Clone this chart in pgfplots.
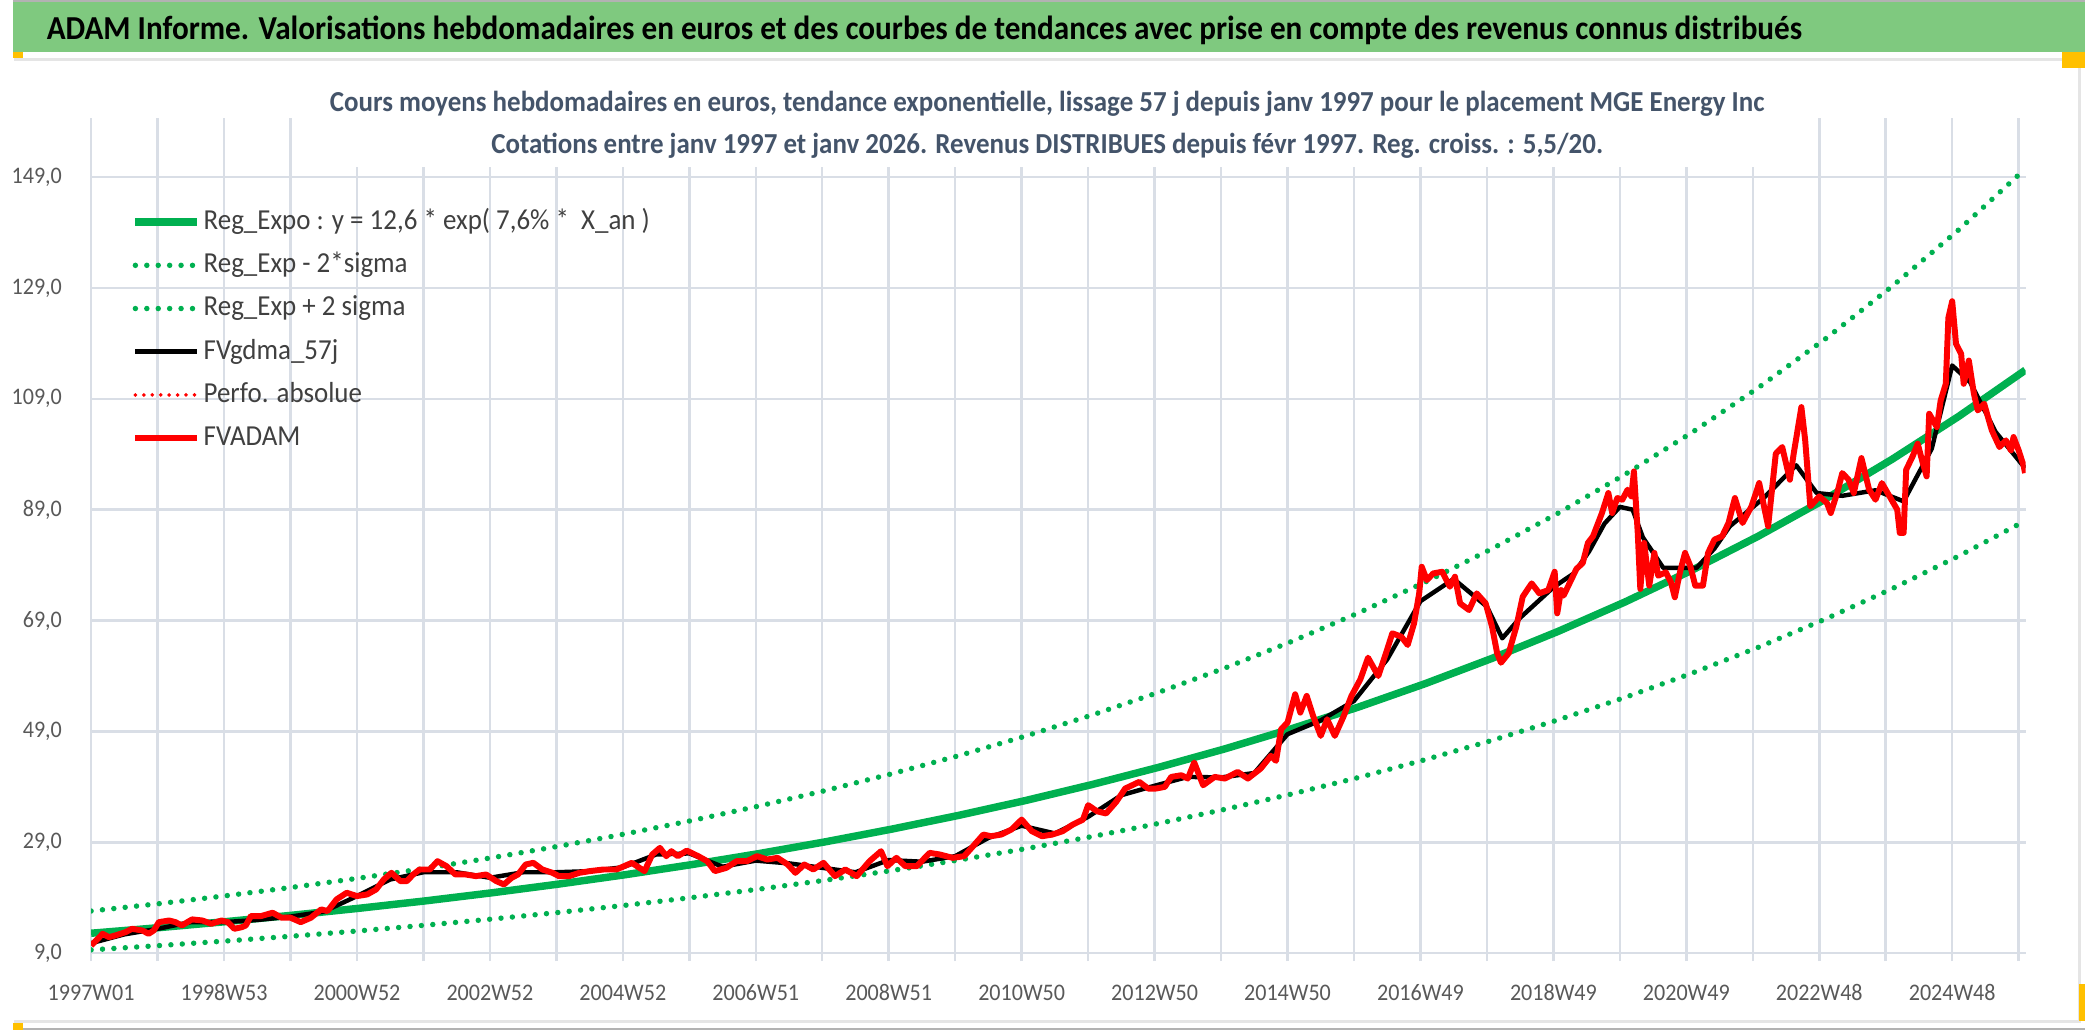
\documentclass[border=0pt]{standalone}
\usepackage{fontspec}
\setmainfont[FakeStretch=0.93]{Carlito}
\usepackage{pgfplots}
\pgfplotsset{compat=1.18}
\definecolor{barg}{RGB}{127,201,127}
\definecolor{xlgreen}{RGB}{0,176,80}
\definecolor{gridc}{RGB}{217,222,230}
\definecolor{subt}{RGB}{68,84,106}
\definecolor{tickc}{RGB}{89,89,89}
\definecolor{legc}{RGB}{64,64,64}
\definecolor{xlorange}{RGB}{255,192,0}

\pgfplotstableread{
w v
0 12.60
52.18 13.59
104.36 14.67
156.54 15.83
208.72 17.08
260.90 18.42
313.08 19.88
365.26 21.45
417.44 23.14
469.62 24.97
521.80 26.94
573.98 29.07
626.16 31.37
678.34 33.84
730.52 36.51
782.70 39.40
834.88 42.51
887.06 45.86
939.24 49.49
991.42 53.39
1043.60 57.61
1095.78 62.16
1147.96 67.07
1200.14 72.36
1252.32 78.08
1304.50 84.24
1356.68 90.89
1408.86 98.07
1461.04 105.82
1513.22 114.17
}\regexpo

\pgfplotstableread{
w v
0 9.60
52.18 10.36
104.36 11.18
156.54 12.06
208.72 13.01
260.90 14.04
313.08 15.15
365.26 16.34
417.44 17.63
469.62 19.03
521.80 20.53
573.98 22.15
626.16 23.90
678.34 25.79
730.52 27.82
782.70 30.02
834.88 32.39
887.06 34.95
939.24 37.71
991.42 40.68
1043.60 43.90
1095.78 47.37
1147.96 51.11
1200.14 55.14
1252.32 59.50
1304.50 64.19
1356.68 69.26
1408.86 74.73
1461.04 80.63
1513.22 87.00
}\reglow

\pgfplotstableread{
w v
0 16.61
52.18 17.91
104.36 19.33
156.54 20.86
208.72 22.51
260.90 24.28
313.08 26.20
365.26 28.27
417.44 30.50
469.62 32.91
521.80 35.51
573.98 38.31
626.16 41.35
678.34 44.60
730.52 48.12
782.70 51.93
834.88 56.03
887.06 60.44
939.24 65.23
991.42 70.37
1043.60 75.93
1095.78 81.93
1147.96 88.40
1200.14 95.37
1252.32 102.91
1304.50 111.03
1356.68 119.79
1408.86 129.26
1461.04 139.47
1513.22 150.48
}\reghigh

\pgfplotstableread{
w v
0 10.8
26 12.4
52 13.4
78 14.6
104 14.6
130 15.0
156 15.6
182 16.5
208 19.3
234 22.3
260 23.6
286 23.6
312 22.6
338 23.6
364 23.6
390 23.8
416 24.5
442 26.8
468 27.0
494 24.6
520 25.7
546 25.2
572 24.4
598 23.6
624 25.8
650 25.5
676 26.5
702 29.8
728 32.0
754 30.6
780 33.6
806 37.5
832 39.2
858 40.8
884 40.7
910 41.5
936 48.5
962 51.0
988 54.5
1014 62.0
1040 72.5
1066 76.5
1092 71.5
1104 65.8
1118 69.5
1144 75.0
1160 77.5
1172 81.5
1184 86.5
1196 89.5
1206 89.0
1214 84.0
1230 78.5
1256 78.5
1270 82.0
1282 86.0
1308 91.0
1334 97.0
1350 92.0
1370 91.5
1396 92.5
1418 90.5
1440 100.0
1456 115.0
1470 112.0
1490 103.0
1513 96.5
}\gdma

\pgfplotstableread{
w v
0 10.4
4 11.3
9 12.5
14 11.9
19 12.2
27 12.8
32 13.4
40 13.1
45 12.5
49 13.1
53 14.6
61 14.9
66 14.6
71 14.0
79 15.1
87 14.9
94 14.3
102 14.9
107 14.6
112 13.4
118 13.7
121 14.0
125 15.7
133 15.7
142 16.3
149 15.4
156 15.4
164 14.6
172 15.4
180 16.9
185 16.6
192 18.7
200 19.9
208 19.3
216 19.6
223 20.5
229 22.3
235 23.5
242 22.0
247 22.0
252 23.2
257 24.1
265 24.1
271 25.6
278 24.7
285 23.2
293 23.2
301 22.9
309 23.2
317 22.0
323 21.4
329 22.6
334 23.2
340 25.0
346 25.3
353 24.1
361 23.5
366 22.9
374 22.9
382 23.5
390 23.8
401 24.1
411 24.1
423 25.3
433 23.8
439 26.8
445 28.0
450 26.5
454 27.4
459 26.5
466 27.5
475 26.5
482 25.6
488 23.8
497 24.4
505 25.6
513 25.6
521 26.5
529 25.9
537 26.2
545 25.0
551 23.5
558 25.0
565 24.1
573 25.3
582 22.9
590 24.1
599 22.9
609 25.6
618 27.4
623 24.7
630 26.2
637 24.7
646 24.7
656 27.1
664 26.8
674 26.2
683 26.5
690 28.3
698 30.4
704 30.1
712 30.4
720 31.3
728 33.1
736 31.0
744 30.1
752 30.4
760 31.0
768 32.2
776 33.1
780 35.7
787 34.6
794 34.2
802 36.3
809 38.7
820 39.9
827 38.7
833 38.7
840 39.0
845 40.8
853 41.1
858 40.5
863 43.4
870 39.3
879 40.8
887 40.5
897 41.7
905 40.5
915 42.3
923 44.6
927 43.7
931 49.4
936 50.6
942 55.7
946 52.4
951 55.4
956 51.8
962 48.2
967 51.2
973 48.2
980 51.8
986 55.4
993 58.4
999 62.3
1007 59.0
1013 63.1
1018 66.7
1025 66.1
1030 64.6
1035 68.5
1039 73.9
1041 78.7
1045 76.3
1050 77.5
1057 77.8
1063 75.1
1067 76.9
1071 72.1
1078 70.9
1084 73.9
1091 72.1
1096 67.9
1100 63.1
1103 61.4
1109 63.1
1115 67.9
1120 73.3
1127 75.7
1133 73.9
1140 74.5
1145 77.8
1147 70.3
1150 74.5
1152 73.5
1157 75.9
1162 78.3
1167 79.4
1171 83.0
1175 84.2
1179 86.6
1182 88.4
1187 92.0
1190 88.4
1194 91.1
1198 90.8
1202 92.6
1205 91.4
1207 95.9
1210 84.8
1212 74.7
1215 83.0
1219 75.3
1223 81.2
1226 77.1
1232 77.7
1236 75.9
1239 73.2
1243 77.7
1247 81.2
1251 78.9
1255 75.3
1261 75.3
1265 81.2
1270 83.6
1276 84.2
1281 86.6
1286 91.1
1292 86.6
1299 89.6
1305 93.8
1312 86.0
1318 99.1
1323 100.3
1329 94.4
1332 99.1
1338 107.5
1341 101.5
1345 89.6
1352 91.4
1358 90.2
1361 88.4
1366 92.0
1370 95.6
1375 94.4
1379 92.0
1385 98.3
1391 92.6
1396 90.8
1401 93.8
1407 91.4
1413 89.0
1415 84.8
1418 84.8
1420 96.2
1425 98.6
1429 100.9
1433 97.4
1436 95.0
1438 106.3
1444 103.9
1447 108.7
1451 111.7
1453 123.6
1456 126.6
1459 118.9
1463 117.1
1465 111.7
1469 115.9
1473 109.9
1476 106.9
1481 108.1
1487 103.3
1493 100.3
1498 101.5
1502 99.7
1504 102.1
1508 99.7
1512 96.8
1513 95.6
}\fvadam

\begin{document}
\begin{tikzpicture}[x=0.1mm,y=0.1mm]
% page background and frame
\fill[white] (0,0) rectangle (2086,1037);
\fill[barg] (0,985) rectangle (2086,1037);
\draw[gray!60, line width=0.2mm] (0,1036.5) -- (2086,1036.5);
\draw[gray!20, line width=0.3mm] (1,978) -- (2080,978) -- (2080,9) -- (1,9);
\draw[gray!60, line width=0.2mm] (0,1) -- (2086,1);
\fill[xlorange] (0,979) rectangle (10,985);
\fill[xlorange] (2063,969) rectangle (2086,985);
\fill[xlorange] (0,0) rectangle (10,7);
\fill[xlorange] (2080,47) rectangle (2086,9);

\node[anchor=base west, inner sep=0pt, font=\bfseries\fontsize{9.6}{11}\selectfont] at (33,998)
  {ADAM Informe. Valorisations hebdomadaires en euros et des courbes de tendances avec prise en compte des revenus connus distribués};

\begin{axis}[
  at={(7.83mm,7.77mm)}, anchor=south west,
  width=194.8mm, height=84.13mm, scale only axis,
  xmin=0, xmax=1513.5, ymin=9, ymax=159.7,
  axis line style={draw=none},
  xtick={0,52,...,1508},
  xticklabels={1997W01,{},1998W53,{},2000W52,{},2002W52,{},2004W52,{},2006W51,{},2008W51,{},2010W50,{},2012W50,{},2014W50,{},2016W49,{},2018W49,{},2020W49,{},2022W48,{},2024W48,{}},
  ytick={9,29,...,149},
  grid=major,
  major grid style={draw=gridc, line width=0.25mm},
  xtick pos=bottom, ytick pos=left,
  tick align=outside,
  major tick length=0.8mm,
  xtick style={draw=gridc, line width=0.25mm},
  ytick style={draw=none},
  tick label style={font=\fontsize{6.8}{8}\selectfont, text=tickc},
  xticklabel style={anchor=base, yshift=-4mm},
  yticklabel style={anchor=east, xshift=-0.9mm,
    /pgf/number format/.cd, fixed, fixed zerofill, precision=1, use comma, assume math mode=true},
  legend style={at={(rel axis cs:0.0152,0.905)}, anchor=north west, draw=none, fill=none,
    font=\fontsize{8.3}{10}\selectfont, text=legc,
    nodes={inner sep=0.3mm, text height=2.2mm, text depth=0.7mm},
    row sep=0.85mm},
  legend cell align=left,
  legend image code/.code={\draw[#1] (0mm,0mm) -- (6.2mm,0mm);},
]
\addplot[xlgreen, line width=0.75mm] table[x=w,y=v] {\regexpo};
\addlegendentry{Reg\_Expo : y = 12,6 * exp( 7,6\% *~ X\_an )}
\addplot[xlgreen, line width=0.55mm, line cap=round, dash pattern=on 0pt off 1.15mm] table[x=w,y=v] {\reglow};
\addlegendentry{Reg\_Exp - 2*sigma}
\addplot[xlgreen, line width=0.55mm, line cap=round, dash pattern=on 0pt off 1.15mm] table[x=w,y=v] {\reghigh};
\addlegendentry{Reg\_Exp + 2 sigma}
\addplot[black, line width=0.45mm, line join=round] table[x=w,y=v] {\gdma};
\addlegendentry{FVgdma\_57j}
\addlegendimage{red, line width=0.4mm, line cap=round, dash pattern=on 0pt off 0.85mm}
\addlegendentry{Perfo. absolue}
\addplot[red, line width=0.6mm, line join=round] table[x=w,y=v] {\fvadam};
\addlegendentry{FVADAM}
\end{axis}

% chart title box
\fill[white] (321,869) rectangle (1762,919);
\node[anchor=base, inner sep=0pt, text=subt, font=\bfseries\fontsize{8.3}{9.6}\selectfont] at (1041,925)
  {Cours moyens hebdomadaires en euros, tendance exponentielle, lissage 57 j depuis janv 1997 pour le placement MGE Energy Inc};
\node[anchor=base, inner sep=0pt, text=subt, font=\bfseries\fontsize{8.3}{9.6}\selectfont] at (1041,883)
  {Cotations entre janv 1997 et janv 2026. Revenus DISTRIBUES depuis févr 1997. Reg. croiss. : 5,5/20.};
\end{tikzpicture}
\end{document}
